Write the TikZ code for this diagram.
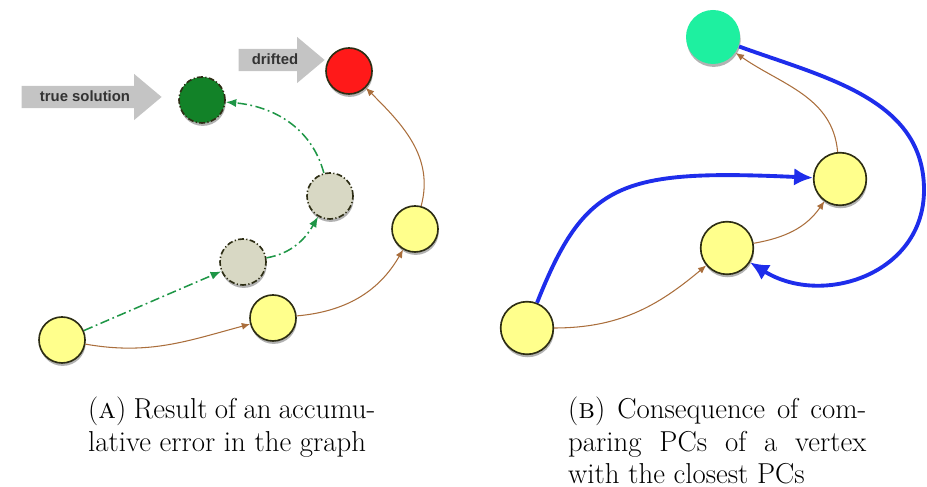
\documentclass[tikz,border=0pt]{standalone}
\usepackage{fontspec}
\newfontfamily\arrowfont{Liberation Sans}
\usetikzlibrary{shapes.arrows,shadows,arrows.meta}
\definecolor{nodeyellow}{RGB}{255,255,140}
\definecolor{nodeline}{RGB}{45,45,20}
\definecolor{ghostfill}{RGB}{216,216,196}
\definecolor{truegreen}{RGB}{18,130,40}
\definecolor{driftred}{RGB}{255,25,25}
\definecolor{closemint}{RGB}{30,240,160}
\definecolor{edgebrown}{RGB}{170,110,60}
\definecolor{pathgreen}{RGB}{30,150,70}
\definecolor{loopblue}{RGB}{30,45,235}
\definecolor{hintgrey}{RGB}{196,196,196}
\begin{document}
\begin{tikzpicture}[x=0.03cm,y=0.03cm,
	vertex/.style={circle,draw=nodeline,line width=1.4pt,fill=nodeyellow,inner sep=0pt,minimum size=1.38cm,
		drop shadow={shadow xshift=0.6pt,shadow yshift=-2.5pt,opacity=.3,fill=black}},
	big/.style={minimum size=1.58cm},
	ghost/.style={vertex,fill=ghostfill,dash pattern=on 5pt off 2pt on 1pt off 2pt},
	hint/.style={single arrow,fill=hintgrey,inner xsep=4pt,inner ysep=5pt,single arrow head extend=0.36cm,
		single arrow tip angle=80,
		font=\arrowfont\bfseries\fontsize{12.7}{14}\selectfont,text=black!80,text height=8.5pt,text depth=0pt},
	odo/.style={draw=edgebrown,line width=0.9pt,-{Latex[length=7pt,width=6pt]}},
	est/.style={draw=pathgreen,line width=1.3pt,dash pattern=on 8pt off 3pt on 1.5pt off 3pt,-{Latex[length=9pt,width=7pt]}},
	match/.style={draw=loopblue,line width=3.3pt,-{Latex[length=16pt,width=15pt]}},
	caption/.style={anchor=north west,inner sep=0pt,align=justify,font=\fontsize{24.6}{27.6}\selectfont}]
	\useasboundingbox (0,0) rectangle (927,487);
	\node [hint,minimum height=4.2cm] (truesol) at (85,390) {true solution};
	\node [hint,minimum height=2.58cm] (drift) at (275,427) {drifted};
	\node [vertex] (a1) at (62,147) {};
	\node [vertex] (a2) at (273,169) {};
	\node [vertex] (a3) at (415,258) {};
	\node [vertex,fill=driftred] (aend) at (349,416) {};
	\node [ghost] (g1) at (243,225) {};
	\node [ghost] (g2) at (330,291) {};
	\node [ghost,fill=truegreen] (gend) at (202,387) {};
	\draw [odo] (a1) to[out=-10,in=195] (a2);
	\draw [odo] (a2) to[out=5,in=240] (a3);
	\draw [odo] (a3) to[out=75,in=-45] (aend);
	\draw [est] (a1) -- (g1);
	\draw [est] (g1) to[out=10,in=240] (g2);
	\draw [est] (g2) to[out=105,in=-5] (gend);
	\node [vertex,big] (b1) at (527,159) {};
	\node [vertex,big] (b2) at (727,239) {};
	\node [vertex,big] (b3) at (840,308) {};
	\node [vertex,big,draw=none,fill=closemint,minimum size=1.62cm] (bend) at (713,450) {};
	\coordinate (turn) at (924,297);
	\draw [odo] (b1) to[out=0,in=220] (b2);
	\draw [odo] (b2) to[out=10,in=235] (b3);
	\draw [odo] (b3) to[out=95,in=-35] (bend);
	\draw [match] (b1) .. controls (585,305) and (620,318) .. (b3);
	\draw [match] (bend) to[out=-20,in=90] (turn) to[out=-90,in=-32,looseness=1.15] (b2);
	\node [caption,text width=8.61cm] (capa) at (88,90) {(\textsc{a}) Result of an accumu-\linebreak lative error in the graph};
	\node [caption,text width=8.94cm] (capb) at (568,90) {(\textsc{b}) Consequence of com-\linebreak paring PCs of a vertex\linebreak with the closest PCs};
\end{tikzpicture}
\end{document}
